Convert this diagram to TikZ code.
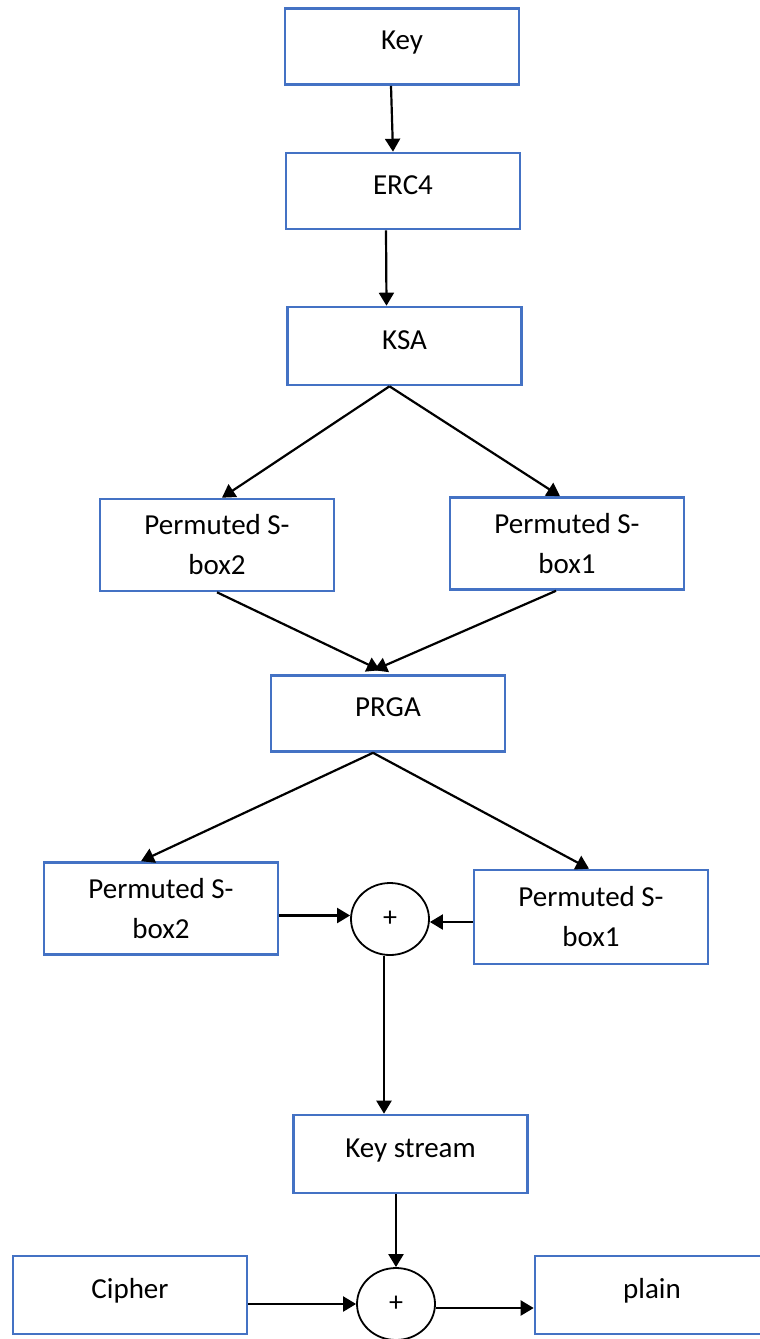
\documentclass[tikz,border=0pt]{standalone}
\usepackage{fontspec}
\setmainfont{Carlito}
\usetikzlibrary{arrows.meta,shapes.geometric}
\definecolor{boxblue}{HTML}{4472C4}
\begin{document}
\begin{tikzpicture}[x=0.5pt,y=-0.5pt,
  blk/.style={draw=boxblue,line width=1.3pt,minimum width=117pt,minimum height=38pt,
    align=center,font=\fontsize{14.5pt}{20pt}\selectfont,inner sep=2pt},
  oneline/.style={blk,text height=10pt,text depth=7pt},
  twoline/.style={blk,minimum height=46pt},
  xorop/.style={ellipse,draw=black,line width=0.9pt,minimum width=39pt,minimum height=36pt,
    inner sep=0pt,font=\fontsize{14pt}{16pt}\selectfont},
  arr/.style={-{Triangle[length=6.5pt,width=7.5pt]},line width=1.1pt}]
\useasboundingbox (0,0) rectangle (760,1339);
\node[oneline] (key) at (402,46.5) {Key};
\node[oneline,minimum height=38pt] (erc) at (403,191) {ERC4};
\node[oneline,minimum height=39pt] (ksa) at (404.5,346) {KSA};
\node[twoline] (pa) at (217,545) {Permuted S-\\box2};
\node[twoline] (pb) at (567,543.5) {Permuted S-\\box1};
\node[oneline] (prga) at (388,713.5) {PRGA};
\node[twoline] (pc) at (161,908.5) {Permuted S-\\box2};
\node[twoline,minimum height=47pt] (pd) at (591,917) {Permuted S-\\box1};
\node[xorop] (xa) at (390,919) {+};
\node[oneline,minimum height=39pt] (ks) at (410.5,1154) {Key stream};
\node[oneline,minimum height=39pt] (ciph) at (130,1295) {Cipher};
\node[xorop] (xb) at (396,1304) {+};
\node[oneline,minimum height=39pt] (plain) at (652,1295) {plain};
\draw[arr] ([xshift=-5.5pt]key.south) -- ([xshift=-5pt]erc.north);
\draw[arr] ([xshift=-8.5pt]erc.south) -- ([xshift=-9pt]ksa.north);
\draw[arr] ([xshift=-7.5pt]ksa.south) -- ([xshift=2.5pt]pa.north);
\draw[arr] ([xshift=-7.5pt]ksa.south) -- ([xshift=-3.5pt]pb.north);
\draw[arr] (pa.south) -- ([xshift=-4pt,yshift=2pt]prga.north);
\draw[arr] ([xshift=-5.5pt]pb.south) -- ([xshift=-7pt,yshift=2pt]prga.north);
\draw[arr] ([xshift=-7.5pt]prga.south) -- ([xshift=-10pt]pc.north);
\draw[arr] ([xshift=-7.5pt]prga.south) -- ([xshift=-1pt]pd.north);
\draw[arr] ([yshift=-3.5pt]pc.east) -- ([yshift=-3.5pt]pc.east -| xa.west);
\draw[arr] ([yshift=-2.5pt]pd.west) -- ([yshift=-2.5pt]pd.west -| xa.east);
\draw[arr] ([xshift=-3pt]xa.south) -- ([xshift=-3pt]xa.south |- ks.north);
\draw[arr] (xb.north |- ks.south) -- (xb.north);
\draw[arr] (ciph.east |- xb.west) -- (xb.west);
\draw[arr] ([yshift=-2pt]xb.east) -- ([yshift=-2pt]xb.east -| plain.west);
\end{tikzpicture}
\end{document}
